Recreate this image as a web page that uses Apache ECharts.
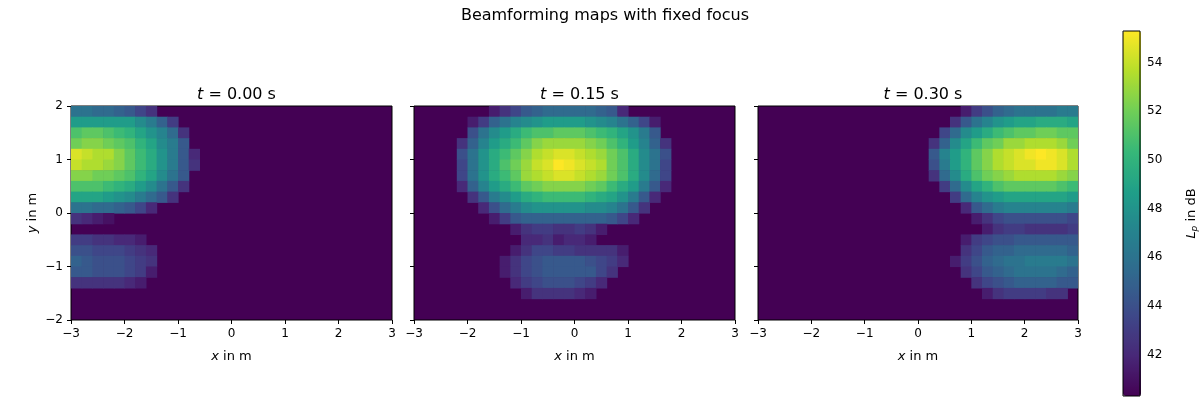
<!DOCTYPE html>
<html><head><meta charset="utf-8">
<script src="https://cdn.jsdelivr.net/npm/echarts@6/dist/echarts.min.js"></script>
<style>html,body{margin:0;padding:0;background:#fff}#c{width:1200px;height:400px}</style>
</head><body><div id="c"></div>
<script>
// Each row: [first column index, values...] ; rows top (y=2) to bottom (y=-2); columns x=-3..3 step 0.2
const panelTitles = ['0.00', '0.15', '0.30'];
const xTicks = [-3,-2,-1,0,1,2,3];
const yTicks = [-2,-1,0,1,2];
const cbTicks = [42,44,46,48,50,52,54];
const vMin = 40.3, vMax = 55.3;
const panel1 = [
 [0,46,46,45.5,45.5,45,44.5,43.5,42.5],
 [0,48.5,48.5,48.5,48.5,48.5,48.5,47.5,46.5,45,43],
 [0,51,51.5,51.5,51,50.5,50,49,48,47,45.5,42.5],
 [0,52,52.5,52.5,52,51.5,51,50,49,47.5,46.5,44.5],
 [0,54.5,54,53.5,53.5,52.5,51.5,50.5,49.5,48,46.5,44.5,42],
 [0,54,53.5,53.5,53,52.5,51.5,50.5,49.5,48,46.5,44.5,42.5],
 [0,52.5,52.5,52,52,51.5,51,50,49,47.5,46,44.5],
 [0,51,51,51,50.5,50,49.5,48.5,47.5,46,44.5,42.5],
 [0,49,49,49,48.5,48,47.5,46.5,45.5,44.5,42.5],
 [0,46,46,45.5,45.5,45,44.5,43.5,42],
 [0,42.5,42,41.5,41],
 [0],
 [0,43,43,42.5,42.5,42,42,41.5],
 [0,44,44,43.5,43.5,43.5,43,42.5,42],
 [0,45,44.5,44,44,44,43.5,43,42.5],
 [0,44.5,44.5,44,44,44,43.5,43,41.5],
 [0,42.5,42.5,42.5,42.5,42.5,42,41.5],
 [0],[0],[0]
];
const panel2 = [
 [7,41.5,42.5,43.5,44.5,45,45.5,45.5,45.5,45.5,45.5,45,44.5,42],
 [5,41.5,43,45,46,47,47.5,48,48.5,48.5,48.5,48.5,48,47.5,47,46,45,43.5,41.5],
 [5,44,46,47.5,48.5,49.5,50.5,51,51,51.5,51.5,51.5,51,50.5,50,49,48,46.5,44.5],
 [4,42.5,45,47,48.5,49.5,50.5,51.5,52.5,53,53,53,53,52.5,52,51,50,48.5,47,45,42.5],
 [4,44,46,48,49.5,50.5,51.5,52.5,53.5,54,54.5,54.5,54,53.5,53,52,51,49.5,47.5,46,44],
 [4,43.5,46,48,49.5,51,52,53,54,54.5,55.3,55,54.5,54,53.5,52,51,49.5,47.5,46,43.5],
 [4,43.5,46,48,49.5,50.5,51.5,53,53.5,54,54.5,54.5,54,53.5,53,52,51,49.5,47.5,45.5,43.5],
 [4,42,45,47,48.5,49.5,50.5,51.5,52,52.5,52.5,52.5,52.5,52,51.5,50.5,49.5,48.5,46.5,44.5,42],
 [5,42.5,44.5,46.5,47.5,48.5,49.5,50,50.5,50.5,50.5,50.5,50,49.5,49,48,46.5,44.5,42],
 [6,42,44,45.5,46.5,47.5,48,48,48,48,48,47.5,47.5,47,46,44.5,42.5],
 [7,41.5,43,44.5,45,45,45,45,45,45,45,45,44.5,43.5,42],
 [9,41.5,42.5,43,43,42.5,42.5,43,42.5,41.5],
 [10,42,42,42.5,41.5,42,42,41.5],
 [9,41.5,42.5,43.5,43.5,43,43,42.5,42.5,42.5,42.5,41.5],
 [8,41.5,42.5,43.5,44,44.5,44.5,44.5,44.5,44,43.5,43,42],
 [8,41.5,42.5,43.5,44,44.5,44.5,44.5,44.5,44.5,43.5,42.5],
 [9,42,43,43.5,44,44,44,43.5,43,42],
 [10,41.5,42.5,42.5,42.5,42.5,42,41.5],
 [0],[0]
];
const panel3 = [
 [19,41.5,43,44,45,45.5,46,46,46,46,46.5,46.5],
 [18,42.5,44.5,46,47,48,48.5,49,49,49.5,49.5,49.5,49],
 [17,43.5,45.5,47.5,48.5,49.5,50.5,51,51.5,51.5,52,52,51.5,51.5],
 [16,42.5,45,47.5,49,50.5,51.5,52,53,53,53.5,53.5,53.5,53,52],
 [16,44.5,47,48.5,50,51.5,52.5,53.5,54,54.5,55,55.3,55,54.5,53.5],
 [16,44,46.5,48.5,50,51.5,52.5,53.5,54,54.5,54.5,55,55,54.5,53.5],
 [16,42.5,45.5,47.5,49.5,51,52,52.5,53,53.5,53.5,53.5,53.5,53,52.5],
 [17,43,45.5,47.5,49,50,51,51.5,51.5,51.5,51.5,51.5,51,50.5],
 [18,43,45.5,47,48,48.5,49,49,49,49,49,49,48.5],
 [19,42,44.5,45.5,46.5,47,47,47,47,47,47,46.5],
 [20,41.5,42.5,43.5,44,44,44,44,44,44,43.5],
 [21,41.5,42.5,43,43,42.5,42.5,42.5,42.5,43],
 [19,41.5,43,43.5,44,44,44.5,44.5,44.5,44.5,44.5,44.5],
 [19,42.5,43.5,44.5,45,45,45.5,45.5,45.5,45.5,45.5,45],
 [18,41.5,43,44,45,45.5,46,46,46.5,46.5,46.5,46.5,46],
 [19,42.5,43.5,44.5,45,45.5,46,46,46,46,45.5,45],
 [20,42.5,43.5,44,44.5,45,45,45,45,44.5,44.5],
 [21,41.5,42.5,43,43,43,43,42.5,42.5],
 [0],[0]
];
const panels = [panel1, panel2, panel3];

function toCells(p){
  const out=[];
  p.forEach((row,r)=>{
    const s=row[0];
    for(let i=1;i<row.length;i++){
      const c=s+i-1;
      out.push([-3+c*0.2, 2-(r+1)*0.2, row[i]]);
    }
  });
  return out;
}
const viridis=['#440154','#482878','#3e4989','#31688e','#26828e','#1f9e89','#35b779','#6ece58','#b5de2b','#fde725'];
const font='DejaVu Sans';
const lefts=[71,414,758], widths=[321,321,320];
const grids=[], xAxes=[], yAxes=[], series=[], titles=[];
const fmt=v=>v<0?'\u2212'+(-v):''+v;
for(let i=0;i<3;i++){
  grids.push({left:lefts[i],top:106,width:widths[i],height:214,show:true,backgroundColor:'#440154',borderColor:'#000',borderWidth:1,z:0});
  xAxes.push({gridIndex:i,type:'value',min:-3,max:3,interval:1,position:'bottom',
    name:'{i|x} in m',nameLocation:'middle',nameGap:30,
    nameTextStyle:{fontFamily:font,fontSize:13,color:'#000',rich:{i:{fontStyle:'italic',fontFamily:font,fontSize:13}}},
    axisLine:{show:false,onZero:false},axisTick:{show:true,length:4,lineStyle:{color:'#000'}},
    axisLabel:{fontFamily:font,fontSize:12,color:'#000',margin:8,formatter:fmt},
    splitLine:{show:false}});
  yAxes.push({gridIndex:i,type:'value',min:-2,max:2,interval:1,position:'left',
    name:i===0?'{i|y} in m':'',nameLocation:'middle',nameGap:32,
    nameTextStyle:{fontFamily:font,fontSize:13,color:'#000',rich:{i:{fontStyle:'italic',fontFamily:font,fontSize:13}}},
    axisLine:{show:false,onZero:false},axisTick:{show:true,length:4,lineStyle:{color:'#000'}},
    axisLabel:{show:i===0,fontFamily:font,fontSize:12,color:'#000',margin:8,formatter:fmt},
    splitLine:{show:false}});
  series.push({type:'custom',xAxisIndex:i,yAxisIndex:i,data:toCells(panels[i]),
    encode:{x:0,y:1},clip:true,
    renderItem:(params,api)=>{
      const x=api.value(0),y=api.value(1);
      const p1=api.coord([x,y+0.2]),p2=api.coord([x+0.2,y]);
      return {type:'rect',shape:{x:p1[0],y:p1[1],width:p2[0]-p1[0]+0.6,height:p2[1]-p1[1]+0.6},
        style:{fill:api.visual('color')}};
    }});
  titles.push({text:'{i|t} = '+panelTitles[i]+' s',left:lefts[i]+widths[i]/2,top:82,textAlign:'center',
    textStyle:{fontFamily:font,fontSize:16,fontWeight:'normal',color:'#000',rich:{i:{fontStyle:'italic',fontFamily:font,fontSize:16}}}});
}
titles.push({text:'Beamforming maps with fixed focus',left:600,top:3,textAlign:'center',
  textStyle:{fontFamily:font,fontSize:16,fontWeight:'normal',color:'#000'}});
// colorbar axis
grids.push({left:1123,top:31,width:18,height:365,show:true,borderColor:'#000',borderWidth:1,backgroundColor:'transparent',z:5});
xAxes.push({gridIndex:3,type:'value',min:0,max:1,show:false});
yAxes.push({gridIndex:3,type:'value',min:vMin,max:vMax,position:'right',
  name:'{i|L}{s|p} in dB',nameLocation:'middle',nameGap:44,nameRotate:90,
  nameTextStyle:{fontFamily:font,fontSize:13,color:'#000',rich:{i:{fontStyle:'italic',fontFamily:font,fontSize:13},s:{fontStyle:'italic',fontFamily:font,fontSize:9,padding:[6,0,0,0]}}},
  axisLine:{show:false},
  axisTick:{show:true,length:4,customValues:cbTicks,lineStyle:{color:'#000'}},
  axisLabel:{fontFamily:font,fontSize:12,color:'#000',margin:7,customValues:cbTicks},
  splitLine:{show:false}});
const chart=echarts.init(document.getElementById('c'),null,{renderer:'canvas'});
chart.setOption({
  animation:false,
  title:titles,grid:grids,xAxis:xAxes,yAxis:yAxes,series:series,
  visualMap:{type:'continuous',min:vMin,max:vMax,dimension:2,seriesIndex:[0,1,2],
    inRange:{color:viridis},left:1123,top:31,itemWidth:18,itemHeight:365,padding:0,
    calculable:false,showLabel:false,text:null,realtime:false,hoverLink:false}
});
</script></body></html>
